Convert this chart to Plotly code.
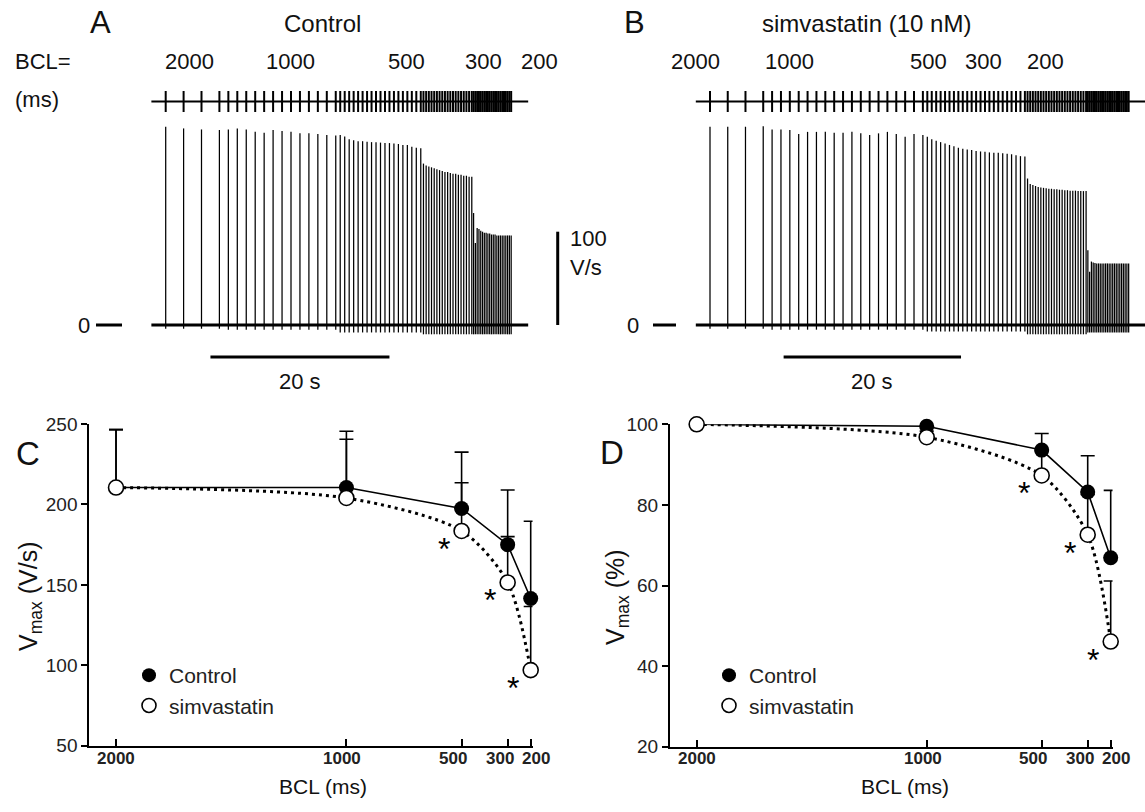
import plotly.graph_objects as go

W, H = 1145, 812
def px(x): return x / W
def py(y): return 1 - y / H

# ------------------------------------------------------------------ data
BCL_STEPS = [2000, 1000, 500, 300, 200]          # ms, stimulation protocol
STIM_LABELS = ["2000", "1000", "500", "300", "200"]

# Panel A (Control) : beats per BCL step and upstroke velocity of every beat (V/s)
A_BEATS = [4, 13, 19, 19, 22]
A_VMAX = [212.5, 210.7, 209.6, 209.0,
          209.6, 210.7, 209.6, 207.0, 206.0, 209.0, 208.0, 207.0, 205.4, 205.4, 204.6, 203.6, 203.0,
          203.6, 202.0, 199.0, 198.0, 197.0, 197.0, 196.5, 196.0, 196.0, 195.5, 195.0, 195.0, 194.5,
          194.0, 193.0, 193.0, 191.0, 190.0, 189.5,
          173.0, 171.0, 170.0, 169.0, 168.0, 167.0, 166.0, 165.0, 164.0, 164.0, 163.0, 162.0, 162.0,
          161.0, 161.0, 160.0, 160.0, 159.0, 159.0,
          120.0, 88.0, 104.0, 103.0, 101.0, 100.0, 99.0, 99.0, 98.0, 98.0, 97.0, 97.0, 97.0, 96.0,
          96.0, 96.0, 96.0, 96.0, 96.0, 96.0, 96.0, 96.0]
A_UNDERSHOOT = [-4, -5, -8, -10, -10]

# Panel B (simvastatin 10 nM)
B_BEATS = [4, 18, 23, 23, 24]
B_VMAX = [212.5, 212.5, 212.5, 213.0,
          209.6, 209.6, 208.9, 204.6, 207.0, 207.0, 207.0, 206.0, 206.0, 207.0, 205.4, 203.6,
          205.4, 207.0, 204.6, 201.8, 204.6, 203.6,
          201.8, 199.0, 197.5, 196.0, 194.5, 193.0, 191.5, 190.0, 189.0, 188.0, 187.5, 186.5,
          186.0, 185.7, 185.0, 184.6, 184.6, 184.0, 183.5, 183.0, 182.0, 181.0, 180.5,
          157.0, 151.0, 150.0, 149.0, 148.0, 147.5, 147.0, 146.5, 146.0, 146.0, 145.5, 145.5,
          145.0, 145.0, 144.5, 144.5, 144.0, 144.0, 144.0, 143.5, 143.5, 143.5, 143.5,
          80.0, 57.0, 68.0, 67.0, 66.5, 66.0, 66.0, 66.0, 66.0, 66.0, 66.0, 66.0, 66.0, 66.0,
          66.0, 66.0, 66.0, 66.0, 66.0, 66.0, 66.0, 66.0, 66.0, 66.0]
B_UNDERSHOOT = [-4, -5, -7, -10, -8]

SCALE_T = 20      # s
SCALE_V = 100     # V/s

# Panels C & D
BCL = [2000, 1000, 500, 300, 200]
BCL_TICKTEXT = ["2000", "1000", "500", "300", "200"]
C_CTRL = [210.5, 210.5, 197.5, 175.0, 141.5]
C_CTRL_SD = [36.0, 35.0, 35.0, 34.0, 48.0]
C_SIM = [210.5, 204.0, 183.5, 151.5, 97.0]
C_SIM_SD = [36.0, 36.5, 30.0, 28.5, 39.5]
D_CTRL = [100.0, 99.5, 93.6, 83.2, 66.9]
D_CTRL_SD = [0.0, 0.0, 4.1, 9.0, 16.7]
D_SIM = [100.0, 96.8, 87.3, 72.6, 46.1]
D_SIM_SD = [0.0, 1.5, 6.0, 10.0, 15.0]
SIG_BCL = [500, 300, 200]

# ------------------------------------------------------------------ helpers
FONT = "Liberation Sans, Arial, sans-serif"


def beat_times(counts):
    times, t, first = [], 0.0, True
    for bcl, n in zip(BCL_STEPS, counts):
        for _ in range(n):
            if not first:
                t += bcl / 1000.0
            first = False
            times.append(t)
    return times


def seg_index(counts):
    idx = []
    for k, n in enumerate(counts):
        idx += [k] * n
    return idx


fig = go.Figure()

PANELS = {
    "A": dict(t0=165.7, pps=8.95, dom=(140, 570), xa="x", ya="y", ys="y2",
              beats=A_BEATS, vmax=A_VMAX, under=A_UNDERSHOOT),
    "B": dict(t0=710.0, pps=8.87, dom=(680, 1145), xa="x2", ya="y3", ys="y4",
              beats=B_BEATS, vmax=B_VMAX, under=B_UNDERSHOOT),
}
BASE_PY, PPV = 325.0, 0.933
YDOM = (110, 375)
SDOM = (84, 119)
TICK_H = 0.6
PAD0, PAD1 = 1.6, 1.9

for key, p in PANELS.items():
    t = beat_times(p["beats"])
    seg = seg_index(p["beats"])
    xs, ys = [], []
    for ti, v, k in zip(t, p["vmax"], seg):
        xs += [ti, ti, None]
        ys += [p["under"][k], v, None]
    tstart, tend = t[0] - PAD0, t[-1] + PAD1
    fig.add_trace(go.Scatter(x=[tstart, tend], y=[0, 0], mode="lines",
                             line=dict(color="black", width=3.2),
                             xaxis=p["xa"], yaxis=p["ya"], showlegend=False, hoverinfo="skip"))
    fig.add_trace(go.Scatter(x=xs, y=ys, mode="lines", line=dict(color="black", width=1.25),
                             xaxis=p["xa"], yaxis=p["ya"], showlegend=False, hoverinfo="skip"))
    sx, sy = [tstart, tend, None], [0, 0, None]
    for ti in t:
        sx += [ti, ti, None]
        sy += [-TICK_H, TICK_H, None]
    fig.add_trace(go.Scatter(x=sx, y=sy, mode="lines", line=dict(color="black", width=2.0),
                             xaxis=p["xa"], yaxis=p["ys"], showlegend=False, hoverinfo="skip"))
    p["t"] = t

hidden = dict(visible=False, showgrid=False, zeroline=False, fixedrange=True)
for key, p in PANELS.items():
    d0, d1 = p["dom"]
    xr = [(d0 - p["t0"]) / p["pps"], (d1 - p["t0"]) / p["pps"]]
    xname = "xaxis" if p["xa"] == "x" else "xaxis" + p["xa"][1:]
    fig.layout[xname] = dict(hidden, domain=[px(d0), px(d1)], range=xr, anchor=p["ya"])
    yname = "yaxis" if p["ya"] == "y" else "yaxis" + p["ya"][1:]
    fig.layout[yname] = dict(hidden, domain=[py(YDOM[1]), py(YDOM[0])],
                             range=[(BASE_PY - YDOM[1]) / PPV, (BASE_PY - YDOM[0]) / PPV],
                             anchor=p["xa"])
    sname = "yaxis" + p["ys"][1:]
    fig.layout[sname] = dict(hidden, domain=[py(SDOM[1]), py(SDOM[0])], range=[-1, 1],
                             anchor=p["xa"])

shapes = []
annots = []
bar_v = (BASE_PY - 357) / PPV
for key, start in (("A", 5.0), ("B", 8.3)):
    p = PANELS[key]
    shapes.append(dict(type="line", xref=p["xa"], yref=p["ya"], x0=start, x1=start + SCALE_T,
                       y0=bar_v, y1=bar_v, line=dict(color="black", width=3)))
    annots.append(dict(xref=p["xa"], yref="paper", x=start + SCALE_T / 2, y=py(381),
                       text="20 s", font=dict(size=22)))
pA = PANELS["A"]
tv = pA["t"][-1] + 5.2
shapes.append(dict(type="line", xref="x", yref="y", x0=tv, x1=tv, y0=0, y1=SCALE_V,
                   line=dict(color="black", width=3)))
annots.append(dict(x=px(568), y=py(238), text=str(SCALE_V), xanchor="left", font=dict(size=22)))
annots.append(dict(x=px(568), y=py(268), text="V/s", xanchor="left", font=dict(size=22)))
for (lx, d0, d1) in ((84, 96, 122), (633, 653, 676)):
    shapes.append(dict(type="line", xref="paper", yref="paper", x0=px(d0), x1=px(d1),
                       y0=py(BASE_PY), y1=py(BASE_PY), line=dict(color="black", width=3)))
    annots.append(dict(x=px(lx), y=py(BASE_PY), text="0", font=dict(size=22)))

annots += [
    dict(x=px(100), y=py(22), text="A", font=dict(size=31)),
    dict(x=px(322), y=py(24), text="Control", font=dict(size=24)),
    dict(x=px(634), y=py(22), text="B", font=dict(size=31)),
    dict(x=px(866), y=py(24), text="simvastatin (10 nM)", font=dict(size=24)),
    dict(x=px(13), y=py(61), text="BCL=", font=dict(size=22), xanchor="left"),
    dict(x=px(13), y=py(99), text="(ms)", font=dict(size=22), xanchor="left"),
]
for xs_, lbl in zip([189, 290, 406, 483, 539], STIM_LABELS):
    annots.append(dict(x=px(xs_), y=py(61), text=lbl, font=dict(size=22)))
for xs_, lbl in zip([695, 789, 928, 983, 1045], STIM_LABELS):
    annots.append(dict(x=px(xs_), y=py(61), text=lbl, font=dict(size=22)))

# ------------------------------------------------------------------ panels C & D
def add_series(xa, ya, ctrl, ctrl_sd, sim, sim_sd, legend):
    fig.add_trace(go.Scatter(
        x=BCL, y=ctrl, mode="lines+markers", xaxis=xa, yaxis=ya, showlegend=False,
        line=dict(color="black", width=1.6),
        marker=dict(symbol="circle", size=15, color="black"),
        error_y=dict(type="data", symmetric=False, array=ctrl_sd, arrayminus=[0] * len(ctrl),
                     width=7, thickness=1.6, color="black"),
        cliponaxis=False))
    fig.add_trace(go.Scatter(
        x=BCL, y=sim, mode="lines+markers", xaxis=xa, yaxis=ya, showlegend=False,
        line=dict(color="black", width=3, dash="3px,4px", shape="spline", smoothing=0.8),
        marker=dict(symbol="circle", size=15, color="white", line=dict(color="black", width=1.6)),
        error_y=dict(type="data", symmetric=False, array=sim_sd, arrayminus=[0] * len(sim),
                     width=7, thickness=1.6, color="black"),
        cliponaxis=False))
    fig.add_trace(go.Scatter(x=[None], y=[None], mode="markers", name="Control",
                             marker=dict(symbol="circle", size=14, color="black"),
                             xaxis=xa, yaxis=ya, legend=legend))
    fig.add_trace(go.Scatter(x=[None], y=[None], mode="markers", name="simvastatin",
                             marker=dict(symbol="circle", size=14, color="white",
                                         line=dict(color="black", width=1.6)),
                             xaxis=xa, yaxis=ya, legend=legend))


add_series("x3", "y5", C_CTRL, C_CTRL_SD, C_SIM, C_SIM_SD, "legend")
add_series("x4", "y6", D_CTRL, D_CTRL_SD, D_SIM, D_SIM_SD, "legend2")

PX_PER_MS = (530.7 - 116.0) / 1800.0
XR = [2116, 192]
EXTRA = (200 - XR[1]) * PX_PER_MS
xcommon = dict(range=XR, tickvals=BCL, showticklabels=False, ticks="inside",
               ticklen=7, tickwidth=1.6, tickcolor="black", showline=True, linecolor="black",
               linewidth=2, showgrid=False, zeroline=False, fixedrange=True)
ycommon = dict(ticks="outside", ticklen=6, tickwidth=1.6, tickcolor="black", showline=True,
               linecolor="black", linewidth=2, showgrid=False, zeroline=False, fixedrange=True,
               tickfont=dict(family=FONT, size=19, color="#222"))
fig.update_layout(
    xaxis3=dict(xcommon, domain=[px(89.3), px(530.7 + EXTRA)], anchor="y5"),
    yaxis5=dict(ycommon, domain=[py(745.7), py(424)], range=[50, 250],
                tickvals=[50, 100, 150, 200, 250], anchor="x3"),
    xaxis4=dict(xcommon, domain=[px(670), px(1110.7 + EXTRA)], anchor="y6"),
    yaxis6=dict(ycommon, domain=[py(746.7), py(424.3)], range=[20, 100],
                tickvals=[20, 40, 60, 80, 100], anchor="x4"),
)

LABEL_NUDGE = [0, -4, -9, -8, 5]
for xa in ("x3", "x4"):
    for b, txt, dx in zip(BCL, BCL_TICKTEXT, LABEL_NUDGE):
        annots.append(dict(xref=xa, yref="paper", x=b, y=py(758), text=txt,
                           xshift=dx, font=dict(size=17, color="#222", weight="bold")))

for xa, ya, sim in (("x3", "y5", C_SIM), ("x4", "y6", D_SIM)):
    for b in SIG_BCL:
        annots.append(dict(xref=xa, yref=ya, x=b, y=sim[BCL.index(b)], text="*",
                           xshift=-18, yshift=-18, font=dict(size=32, color="black")))

annots += [
    dict(x=px(28), y=py(453), text="C", font=dict(size=33)),
    dict(x=px(612), y=py(452), text="D", font=dict(size=33)),
    dict(x=px(30), y=py(597), text="V<sub>max</sub> (V/s)", textangle=-90, font=dict(size=25)),
    dict(x=px(617), y=py(597), text="V<sub>max</sub> (%)", textangle=-90, font=dict(size=25)),
    dict(x=px(323), y=py(786), text="BCL (ms)", font=dict(size=21)),
    dict(x=px(905), y=py(786), text="BCL (ms)", font=dict(size=21)),
]
for a in annots:
    a.setdefault("xref", "paper")
    a.setdefault("yref", "paper")
    a.setdefault("showarrow", False)
    a.setdefault("xanchor", "center")
    a.setdefault("yanchor", "middle")

legend_style = dict(font=dict(size=21, family=FONT, color="#222"), bgcolor="rgba(0,0,0,0)",
                    borderwidth=0, xanchor="left", yanchor="top", tracegroupgap=0,
                    itemwidth=30)
fig.update_layout(
    legend=dict(legend_style, x=px(129), y=py(655)),
    legend2=dict(legend_style, x=px(709), y=py(655)),
)

fig.update_layout(
    width=W, height=H, margin=dict(l=0, r=0, t=0, b=0, pad=0, autoexpand=False),
    paper_bgcolor="white", plot_bgcolor="rgba(0,0,0,0)",
    font=dict(family=FONT, color="#111"),
    shapes=shapes, annotations=annots, showlegend=True,
)

fig.write_html("out.html")
